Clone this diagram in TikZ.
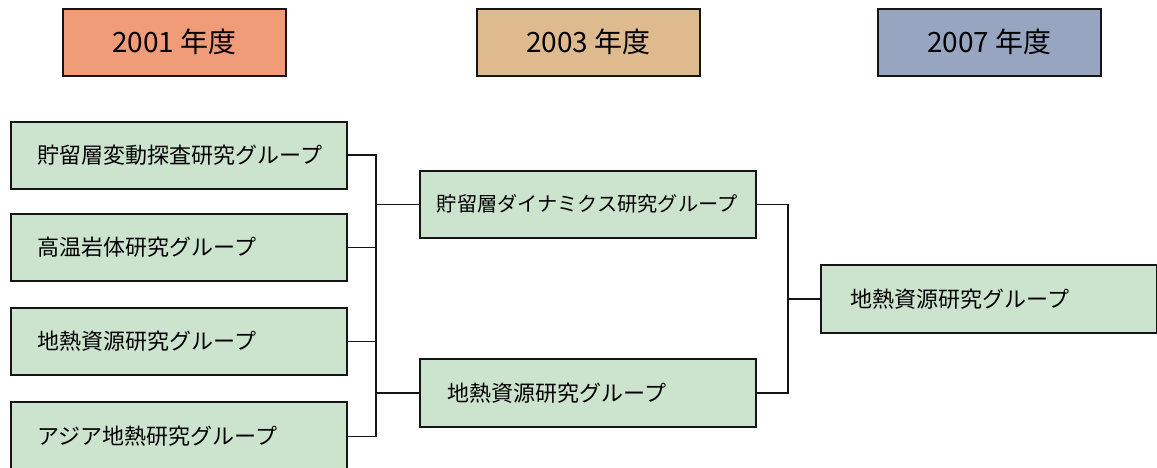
\documentclass[tikz,border=0pt]{standalone}
\usepackage{fontspec}
\newfontfamily\jp{Noto Sans CJK JP}
\definecolor{hA}{HTML}{F19C79}
\definecolor{hB}{HTML}{DEBA8E}
\definecolor{hC}{HTML}{97A5C1}
\definecolor{grp}{HTML}{CCE4CE}
\definecolor{ink}{HTML}{151515}
\tikzset{
  header/.style={draw=ink, line width=1.6pt, anchor=north west, minimum width=223pt, minimum height=67pt, inner sep=0pt, font=\jp\fontsize{28}{30}\selectfont},
  group/.style={draw=ink, line width=1.6pt, fill=grp, anchor=north west, minimum width=336pt, minimum height=67pt, text width=282pt, inner xsep=27pt, inner ysep=0pt, align=left, font=\jp\fontsize{22}{26}\selectfont},
  conn/.style={draw=ink, line width=1.6pt}
}
\begin{document}
\begin{tikzpicture}[x=1pt,y=-1pt]
\useasboundingbox (0,0) rectangle (1157,468);
\clip (0,0) rectangle (1157,468);
% headers
\node[header, fill=hA] (h1) at (62,8) {2001 年度};
\node[header, fill=hB] (h2) at (476,8) {2003 年度};
\node[header, fill=hC] (h3) at (877,8) {2007 年度};
% 2001 groups
\node[group] (a1) at (10,121) {貯留層変動探査研究グループ};
\node[group] (a2) at (10,213) {高温岩体研究グループ};
\node[group] (a3) at (10,307) {地熱資源研究グループ};
\node[group, minimum height=69pt] (a4) at (10,401) {アジア地熱研究グループ};
% 2003 groups
\node[group, inner xsep=17pt, text width=302pt, font=\jp\fontsize{20.2}{24}\selectfont] (m1) at (419,170) {貯留層ダイナミクス研究グループ};
\node[group, inner xsep=28pt, text width=280pt, minimum height=68pt] (m2) at (419,358) {地熱資源研究グループ};
% 2007 group
\node[group, inner xsep=30pt, text width=276pt, minimum height=68pt] (r) at (820,264) {地熱資源研究グループ};
% junction columns
\coordinate (jl) at (376,0);
\coordinate (jr) at (788,0);
% connectors
\draw[conn] (a1.east) -- (a1.east -| jl) -- (a4.east -| jl) -- (a4.east);
\draw[conn] (a2.east) -- (a2.east -| jl);
\draw[conn] (a3.east) -- (a3.east -| jl);
\draw[conn] (m1.west) -- (m1.west -| jl);
\draw[conn] (m2.west) -- (m2.west -| jl);
\draw[conn] (m1.east) -- (m1.east -| jr) -- (m2.east -| jr) -- (m2.east);
\draw[conn] (r.west) -- (r.west -| jr);
\end{tikzpicture}
\end{document}
